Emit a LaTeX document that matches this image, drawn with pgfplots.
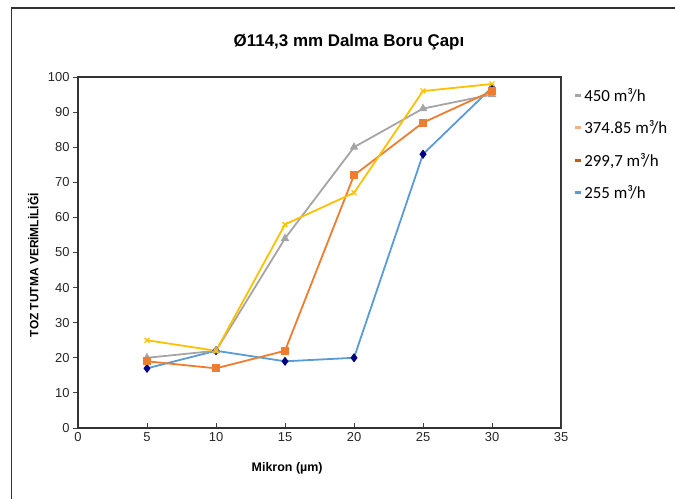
\documentclass[border=0pt]{standalone}
\usepackage{pgfplots}
\pgfplotsset{compat=1.18}
\usepackage{fontspec}
\setmainfont{Liberation Sans}
\newfontfamily\legfont{Carlito}
\definecolor{cgray}{HTML}{A5A5A5}
\definecolor{cyellow}{HTML}{FFC000}
\definecolor{corange}{HTML}{ED7D31}
\definecolor{cblue}{HTML}{5B9BD5}
\definecolor{cnavy}{HTML}{000080}
\definecolor{clorange}{HTML}{F4B183}
\definecolor{cdorange}{HTML}{C55A11}
\begin{document}
\begin{tikzpicture}[x=1bp,y=1bp]
\path[use as bounding box] (0,0) rectangle (675,499);
\draw[black!80, line width=1.2bp] (11.5,0) -- (11.5,491) -- (675,491);
\node[font=\bfseries\fontsize{17}{20}\selectfont] at (349,457) {Ø114,3 mm Dalma Boru Çapı};
\begin{axis}[
  at={(78bp,71bp)}, anchor=south west, scale only axis,
  width=483bp, height=351bp,
  xmin=0, xmax=35, ymin=0, ymax=100,
  xtick={0,5,...,35}, ytick={0,10,...,100},
  xtick pos=bottom, ytick pos=left,
  tick align=inside, major tick length=5bp,
  ytick style={xshift=-5bp, black!75, line width=0.8bp},
  xtick style={black!75, line width=0.8bp},
  /pgf/number format/assume math mode=true,
  tick label style={font=\fontsize{13}{15}\selectfont, text=black!85},
  yticklabel style={xshift=-5bp},
  xticklabel style={yshift=-1bp},
  axis line style={black!80, line width=1.2bp},
  xlabel={Mikron (µm)},
  ylabel={TOZ TUTMA VERİMLİLİĞİ},
  xlabel style={font=\bfseries\fontsize{12.5}{15}\selectfont, at={(axis description cs:0.433,-0.114)}, anchor=center},
  ylabel style={font=\bfseries\fontsize{12}{14}\selectfont, at={(axis description cs:-0.093,0.464)}, anchor=center},
  legend style={draw=none, fill=none, at={(axis description cs:1.025,0.975)}, anchor=north west,
    font=\legfont\fontsize{17}{20}\selectfont, row sep=14bp, inner sep=0pt},
  legend cell align=left,
  legend image code/.code={\draw[line width=3bp,#1] (0bp,0bp) -- (6bp,0bp);},
  every axis plot/.append style={line width=1.8bp},
]
\addlegendimage{cgray}
\addlegendentry{450 m³/h}
\addlegendimage{clorange}
\addlegendentry{374.85 m³/h}
\addlegendimage{cdorange}
\addlegendentry{299,7 m³/h}
\addlegendimage{cblue}
\addlegendentry{255 m³/h}
\addplot[cblue, mark=diamond*, mark size=3.2bp, mark options={fill=cnavy, draw=cnavy}, forget plot] coordinates {
(5,17) (10,22) (15,19) (20,20) (25,78) (30,97)};
\addplot[cgray, mark=triangle*, mark size=3.2bp, mark options={fill=cgray}, forget plot] coordinates {
(5,20) (10,22) (15,54) (20,80) (25,91) (30,95)};
\addplot[corange, mark=square*, mark size=3bp, mark options={fill=corange}, forget plot] coordinates {
(5,19) (10,17) (15,22) (20,72) (25,87) (30,96)};
\addplot[cyellow, mark=x, mark size=3.5bp, mark options={line width=1.2bp}, forget plot] coordinates {
(5,25) (10,22) (15,58) (20,67) (25,96) (30,98)};
\draw[black!40, line width=0.8bp] (rel axis cs:1,0) -- (rel axis cs:1,1);
\end{axis}
\end{tikzpicture}
\end{document}
